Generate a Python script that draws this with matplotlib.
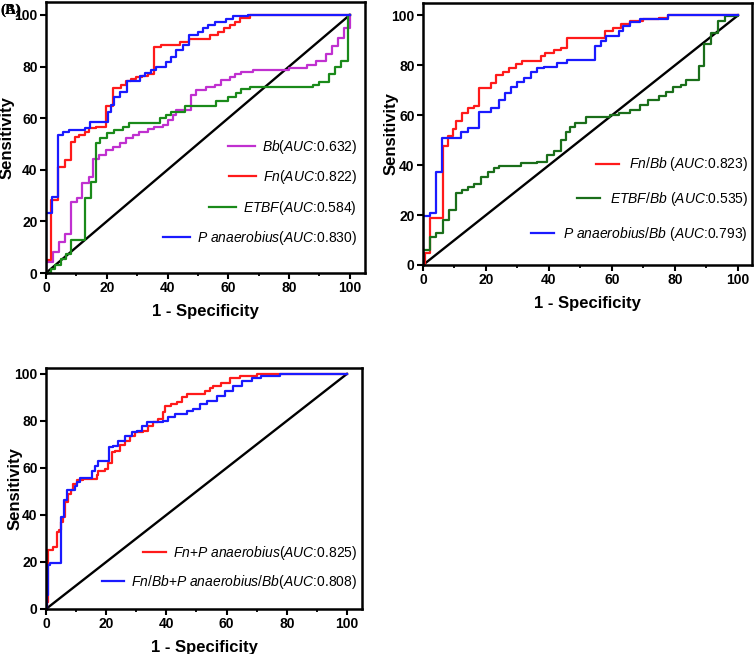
import matplotlib
matplotlib.use('Agg')
import matplotlib.pyplot as plt
from matplotlib.ticker import MultipleLocator

plt.rcParams['font.family'] = ['Liberation Sans', 'DejaVu Sans']
plt.rcParams['mathtext.fontset'] = 'custom'
plt.rcParams['mathtext.rm'] = 'Liberation Sans'
plt.rcParams['mathtext.it'] = 'Liberation Sans:italic'
plt.rcParams['mathtext.bf'] = 'Liberation Sans:bold'

# ---- panel A: single markers (x = 1 - specificity, y = sensitivity, %) ----
a_bb_x = [0, 0, 2.3, 4.2, 6.1, 8.1, 10.3, 12.0, 14.2, 15.4, 17.6, 19.8, 22.0, 24.2, 26.3,
          28.5, 30.7, 33.5, 35.6, 38.5, 40.2, 41.8, 42.8, 47.8, 49.5, 52.8, 55.5, 57.7,
          60.4, 62.1, 64.3, 68.2, 80, 86, 89, 92, 94, 96, 98, 100]
a_bb_y = [0, 4.4, 8.3, 12.1, 15.3, 27.6, 28.9, 35.0, 37.3, 44.1, 45.7, 47.7, 49.0, 50.5, 52.2,
          53.5, 54.8, 55.7, 56.5, 57.3, 59.3, 61.2, 63.2, 69.0, 70.9, 71.9, 72.9, 74.8,
          76.1, 77.1, 78.0, 78.7, 79.5, 80.5, 82, 85, 88, 91, 95, 100]

a_fn_x = [0, 0, 1.7, 3.9, 6.1, 8.1, 9.5, 11.0, 12.7, 14.3, 16.5, 19.8, 22.0, 24.8, 26.2,
          28.0, 29.7, 31.5, 33.5, 35.7, 38.0, 44.0, 47.0, 54.0, 56.5, 58.5, 60.4, 62.1,
          64.0, 67.0, 100]
a_fn_y = [0, 5, 28.3, 41.2, 43.8, 50.9, 52.8, 53.5, 54.8, 56.1, 56.7, 64.7, 71.8, 72.9, 74.5,
          75.0, 75.8, 76.5, 77.1, 87.6, 88.4, 89.6, 90.5, 92.2, 93.5, 94.8, 96.1, 97.4,
          98.8, 100, 100]

a_etbf_x = [0, 1.5, 3.0, 5.0, 6.5, 8.3, 12.7, 14.9, 16.5, 17.9, 20.1, 22.5, 25.5, 27.3,
            37.4, 39.6, 41.2, 45.6, 56.1, 59.9, 62.6, 64.3, 67.1, 88, 90, 93, 95, 97,
            99.5, 100]
a_etbf_y = [0, 1.5, 3.0, 5.5, 7.5, 12.8, 29.0, 35.4, 50.3, 52.2, 54.4, 55.4, 56.5, 58.0,
            60.0, 61.2, 62.5, 64.7, 66.8, 68.1, 69.6, 71.2, 72.0, 73, 74, 77, 80, 82,
            100, 100]

a_pan_x = [0, 0, 2.0, 3.9, 5.5, 7.5, 13.0, 14.5, 20.4, 21.5, 22.5, 24.5, 26.5, 30.8, 32.5,
           34.5, 36.3, 39.6, 41.2, 42.8, 45.1, 47.1, 50.0, 51.6, 53.3, 55.5, 59.3, 61.5,
           66.5, 100]
a_pan_y = [0, 23.4, 29.4, 53.5, 54.5, 55.4, 56.0, 58.4, 62.5, 65.0, 68.3, 70.2, 74.2, 76.2,
           77.5, 78.5, 79.9, 81.8, 83.8, 86.4, 88.3, 92.2, 93.5, 94.8, 96.1, 97.4, 98.3,
           99.6, 100, 100]

# ---- panel B: ratios to Bb ----
b_fn_x = [0, 0.5, 2.1, 6.3, 7.9, 9.5, 10.5, 12.4, 14.2, 16.3, 17.9, 21.6, 23.2, 25.3, 27.4,
          29.5, 31.6, 37.4, 38.9, 41.6, 43.7, 45.8, 57.7, 60.3, 63.0, 65.6, 69.9, 75.1,
          77.8, 100]
b_fn_y = [0, 4.7, 18.7, 47.7, 51.5, 54.4, 57.9, 61.1, 62.8, 63.8, 70.9, 73.1, 76.2, 77.5,
          78.9, 80.6, 81.6, 83.6, 84.9, 86.0, 86.9, 90.9, 93.7, 95.0, 96.4, 97.7, 98.4,
          99.1, 100, 100]

b_etbf_x = [0, 0, 2.1, 4.2, 6.3, 8.4, 10.5, 12.4, 14.2, 16.3, 18.4, 20.5, 22.6, 24.2, 31.1,
            36.3, 39.5, 41.6, 43.7, 45.3, 46.6, 48.2, 51.9, 59.3, 62.4, 65.6, 68.8, 71.4,
            75.1, 77.3, 79.4, 82.0, 83.6, 87.8, 89.4, 91.5, 93.7, 95.8, 100]
b_etbf_y = [0, 6.0, 11.1, 12.7, 18.0, 22.1, 29.0, 30.1, 31.1, 32.5, 35.4, 37.4, 38.8, 39.7,
            40.8, 41.4, 44.1, 45.5, 50.1, 53.5, 55.5, 57.0, 59.5, 60.2, 60.9, 62.2, 64.3,
            66.3, 67.6, 69.2, 71.4, 72.3, 74.3, 79.7, 88.4, 93.0, 97.7, 99.7, 100]

b_pan_x = [0, 0, 2.1, 4.2, 6.1, 12.1, 14.2, 17.9, 21.6, 24.2, 26.1, 27.9, 30.0, 32.1, 34.2,
           36.3, 38.4, 42.6, 45.8, 54.5, 56.6, 58.2, 62.4, 63.5, 65.6, 68.8, 77.8, 100]
b_pan_y = [0, 19.7, 20.7, 37.4, 50.8, 53.5, 54.8, 61.5, 62.8, 66.2, 69.1, 71.5, 73.5, 74.9,
           77.5, 78.9, 79.5, 80.9, 82.2, 87.7, 89.7, 91.7, 93.7, 95.7, 97.3, 98.4, 100, 100]

# ---- panel C: combined markers ----
c_fnpa_x = [0, 0.3, 0.8, 2.2, 3.5, 4.4, 4.9, 5.8, 6.3, 7.4, 8.2, 9.1, 10.2, 12.4, 16.8,
            17.4, 19.6, 20.7, 21.8, 22.9, 24.6, 26.2, 27.9, 29.6, 32.3, 34.0, 35.7, 37.3,
            38.8, 39.5, 41.7, 43.4, 45.1, 46.7, 52.8, 54.5, 55.6, 58.3, 61.1, 64.4, 70.0,
            77.7, 100]
c_fnpa_y = [0, 3, 25.0, 26.4, 32.8, 33.8, 37.0, 39.1, 45.5, 49.0, 50.4, 53.2, 54.7, 55.4,
            56.8, 58.9, 59.6, 62.0, 66.7, 67.4, 69.9, 71.6, 73.7, 75.1, 75.8, 78.0, 79.4,
            80.8, 83.6, 86.4, 87.4, 87.9, 90.0, 91.4, 92.8, 94.2, 94.9, 96.3, 98.2, 99.2,
            99.8, 100, 100]

c_ratio_x = [0, 0.3, 0.8, 1.3, 4.9, 6.0, 6.9, 9.6, 10.2, 11.3, 15.2, 16.3, 17.4, 19.6, 21.0,
             22.1, 24.0, 26.2, 28.5, 30.1, 31.8, 33.4, 39.0, 40.6, 42.9, 46.7, 48.9, 51.2,
             53.4, 56.7, 59.5, 62.2, 65.0, 68.3, 71.6, 77.7, 100]
c_ratio_y = [0, 5.9, 18.6, 19.4, 39.1, 46.2, 50.7, 52.5, 54.0, 55.8, 58.9, 61.0, 62.9, 63.1,
             68.8, 69.5, 71.6, 73.7, 75.1, 75.8, 78.0, 79.4, 80.1, 81.8, 82.9, 84.3, 85.0,
             87.1, 88.6, 90.7, 92.8, 94.9, 97.0, 98.4, 99.2, 100, 100]

W, H = 756, 654
fig = plt.figure(figsize=(W / 100, H / 100), dpi=100)


def px_axes(left, top, right, bottom):
    return fig.add_axes([left / W, 1 - bottom / H, (right - left) / W, (bottom - top) / H])


def style(ax, xmax, ymax, ylabel_x):
    ax.plot([0, 100], [0, 100], color='black', lw=1.7, zorder=1)
    ax.set_xlim(0, xmax)
    ax.set_ylim(0, ymax)
    ax.xaxis.set_major_locator(MultipleLocator(20))
    ax.xaxis.set_minor_locator(MultipleLocator(10))
    ax.yaxis.set_major_locator(MultipleLocator(20))
    ax.tick_params(which='major', direction='out', length=4, width=1.5, labelsize=10, pad=2)
    ax.tick_params(which='minor', direction='out', length=2.5, width=1.3)
    plt.setp(ax.get_xticklabels() + ax.get_yticklabels(), fontweight='bold')
    for s in ax.spines.values():
        s.set_linewidth(1.8)
    ax.set_xlabel('1 - Specificity', fontsize=12, fontweight='bold', labelpad=6)
    ax.set_ylabel('Sensitivity', fontsize=12, fontweight='bold')
    ax.yaxis.set_label_coords(ylabel_x, 0.5)


def right_legend(ax, anchor, hl, pad, spacing):
    leg = ax.legend(loc='lower right', bbox_to_anchor=anchor, frameon=False, fontsize=10,
                    handlelength=hl, handletextpad=pad, labelspacing=spacing,
                    borderpad=0, borderaxespad=0)
    # right-align the rows, handle stays just before its text
    for col in leg._legend_handle_box.get_children():
        col.align = 'right'
    return leg


lw = 1.6

# Panel A
ax1 = px_axes(46, 2, 365, 273)
ax1.plot(a_bb_x, a_bb_y, drawstyle='steps-post', color='#c030d0', lw=lw,
         label=r'$\mathit{Bb}$($\mathit{AUC}$:0.632)')
ax1.plot(a_fn_x, a_fn_y, drawstyle='steps-post', color='#ff1a1a', lw=lw,
         label=r'$\mathit{Fn}$($\mathit{AUC}$:0.822)')
ax1.plot(a_etbf_x, a_etbf_y, drawstyle='steps-post', color='#1a8a1a', lw=lw,
         label=r'$\mathit{ETBF}$($\mathit{AUC}$:0.584)')
ax1.plot(a_pan_x, a_pan_y, drawstyle='steps-post', color='#1a1aff', lw=lw,
         label=r'$\mathit{P\ anaerobius}$($\mathit{AUC}$:0.830)')
style(ax1, 105, 105, -0.099)
right_legend(ax1, (0.975, 0.095), 1.95, 0.5, 0.9)

# Panel B
ax2 = px_axes(423, 3, 752, 265)
ax2.plot(b_fn_x, b_fn_y, drawstyle='steps-post', color='#ff1a1a', lw=lw,
         label=r'$\mathit{Fn/Bb}$ ($\mathit{AUC}$:0.823)')
ax2.plot(b_etbf_x, b_etbf_y, drawstyle='steps-post', color='#1a6e1a', lw=lw,
         label=r'$\mathit{ETBF/Bb}$ ($\mathit{AUC}$:0.535)')
ax2.plot(b_pan_x, b_pan_y, drawstyle='steps-post', color='#1a1aff', lw=lw,
         label=r'$\mathit{P\ anaerobius/Bb}$ ($\mathit{AUC}$:0.793)')
style(ax2, 104.5, 105, -0.075)
right_legend(ax2, (0.988, 0.085), 1.65, 0.7, 1.2)

# Panel C
ax3 = px_axes(46, 368, 362, 609)
ax3.plot(c_fnpa_x, c_fnpa_y, drawstyle='steps-post', color='#ff1a1a', lw=lw,
         label=r'$\mathit{Fn{+}P\ anaerobius}$($\mathit{AUC}$:0.825)')
ax3.plot(c_ratio_x, c_ratio_y, drawstyle='steps-post', color='#1a1aff', lw=lw,
         label=r'$\mathit{Fn/Bb{+}P\ anaerobius/Bb}$($\mathit{AUC}$:0.808)')
style(ax3, 105, 102.5, -0.075)
right_legend(ax3, (0.984, 0.075), 1.6, 0.5, 0.8)

# overlapping panel tags as in the source figure
for tag in ['(A)', '(B)']:
    fig.text(0.001, 1 - 10 / H, tag, fontsize=11, fontweight='bold',
             family=['Liberation Serif', 'DejaVu Serif'], va='center', ha='left')

fig.savefig('out.png', dpi=100)
